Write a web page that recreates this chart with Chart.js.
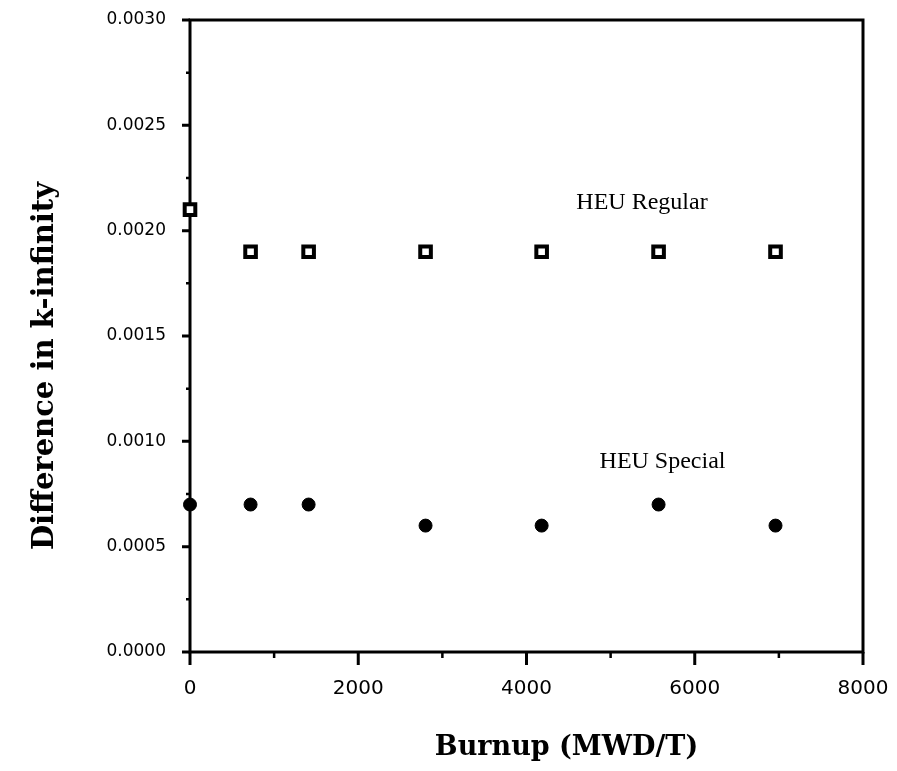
<!DOCTYPE html>
<html>
<head>
<meta charset="utf-8">
<script src="https://cdn.jsdelivr.net/npm/chart.js@4.4.1/dist/chart.umd.min.js"></script>
<style>
  html, body { margin: 0; padding: 0; background: #fff; }
  #wrap { width: 897px; height: 771px; }
</style>
</head>
<body>
<div id="wrap"><canvas id="grafico" width="897" height="771"></canvas></div>
<script>
// valores
var burnup = [0, 720, 1410, 2800, 4180, 5570, 6960];
var heuRegular = [0.0021, 0.0019, 0.0019, 0.0019, 0.0019, 0.0019, 0.0019];
var heuSpecial = [0.0007, 0.0007, 0.0007, 0.0006, 0.0006, 0.0007, 0.0006];

var xTicks = [0, 2000, 4000, 6000, 8000];
var xMinorTicks = [1000, 3000, 5000, 7000];
var yTicks = [0, 0.0005, 0.0010, 0.0015, 0.0020, 0.0025, 0.0030];
var yTickLabels = ['0.0000', '0.0005', '0.0010', '0.0015', '0.0020', '0.0025', '0.0030'];
var yMinorTicks = [0.00025, 0.00075, 0.00125, 0.00175, 0.00225, 0.00275];

var xTitle = 'Burnup (MWD/T)';
var yTitle = 'Difference in k-infinity';

// rótulos das séries (posição em unidades dos eixos)
var seriesNames = ['HEU Regular', 'HEU Special'];
var labelX = [5373, 5617];
var labelY = [0.002103, 0.000873];

function pontos(ys) {
    return burnup.map(function (x, i) { return { x: x, y: ys[i] }; });
}

function semPadding(scale) {
    scale.paddingTop = 0;
    scale.paddingBottom = 0;
    scale.paddingLeft = 0;
    scale.paddingRight = 0;
}

var molduraPlugin = {
    id: 'moldura',
    beforeDatasetsDraw: function (chart) {
        var ctx = chart.ctx;
        var a = chart.chartArea;
        var sx = chart.scales.x, sy = chart.scales.y;
        ctx.save();
        ctx.strokeStyle = '#000';
        ctx.lineWidth = 3;
        ctx.strokeRect(a.left, a.top, a.right - a.left, a.bottom - a.top);

        ctx.beginPath();
        yTicks.forEach(function (v) {
            var p = sy.getPixelForValue(v);
            ctx.moveTo(a.left - 8, p); ctx.lineTo(a.left, p);
        });
        xTicks.forEach(function (v) {
            var p = sx.getPixelForValue(v);
            ctx.moveTo(p, a.bottom); ctx.lineTo(p, a.bottom + 13);
        });
        ctx.stroke();

        ctx.lineWidth = 2.5;
        ctx.beginPath();
        yMinorTicks.forEach(function (v) {
            var p = sy.getPixelForValue(v);
            ctx.moveTo(a.left - 4, p); ctx.lineTo(a.left, p);
        });
        xMinorTicks.forEach(function (v) {
            var p = sx.getPixelForValue(v);
            ctx.moveTo(p, a.bottom); ctx.lineTo(p, a.bottom + 6);
        });
        ctx.stroke();
        ctx.restore();
    },
    afterDatasetsDraw: function (chart) {
        var ctx = chart.ctx;
        var a = chart.chartArea;
        var sx = chart.scales.x, sy = chart.scales.y;
        ctx.save();
        ctx.fillStyle = '#000';
        ctx.font = '24px "Liberation Serif", "Times New Roman", serif';
        ctx.textAlign = 'center';
        ctx.textBaseline = 'alphabetic';
        seriesNames.forEach(function (nome, i) {
            ctx.fillText(nome, sx.getPixelForValue(labelX[i]), sy.getPixelForValue(labelY[i]));
        });

        // títulos dos eixos (no original não ficam centrados na área)
        ctx.font = 'bold 27px "DejaVu Serif", serif';
        ctx.fillText(xTitle, (a.left + a.right) / 2 + 40, a.bottom + 103);

        ctx.font = 'bold 29px "DejaVu Serif", serif';
        ctx.translate(53, (a.top + a.bottom) / 2 + 30);
        ctx.rotate(-Math.PI / 2);
        ctx.fillText(yTitle, 0, 0);
        ctx.restore();
    }
};

var ctx = document.getElementById('grafico').getContext('2d');

var config = {
    type: 'scatter',
    data: {
        datasets: [{
            label: 'HEU Regular',
            data: pontos(heuRegular),
            pointStyle: 'rect',
            pointRadius: 7.5,
            pointHoverRadius: 7.5,
            pointBackgroundColor: '#fff',
            pointBorderColor: '#000',
            pointBorderWidth: 4,
            clip: false
        }, {
            label: 'HEU Special',
            data: pontos(heuSpecial),
            pointStyle: 'circle',
            pointRadius: 6.5,
            pointHoverRadius: 6.5,
            pointBackgroundColor: '#000',
            pointBorderColor: '#000',
            pointBorderWidth: 1,
            clip: false
        }]
    },
    options: {
        responsive: false,
        animation: false,
        events: [],
        layout: { padding: { top: 20, right: 34, left: 0, bottom: 0 } },
        plugins: {
            legend: { display: false },
            tooltip: { enabled: false }
        },
        scales: {
            x: {
                type: 'linear',
                position: 'bottom',
                min: 0,
                max: 8000,
                afterBuildTicks: function (scale) {
                    scale.ticks = xTicks.map(function (v) { return { value: v }; });
                },
                afterFit: function (scale) { scale.height = 119; semPadding(scale); },
                grid: { display: false, drawTicks: false },
                border: { display: false },
                ticks: {
                    color: '#000',
                    padding: 25,
                    maxRotation: 0,
                    font: { family: '"DejaVu Sans", sans-serif', size: 20 },
                    callback: function (v) { return String(v); }
                }
            },
            y: {
                min: 0,
                max: 0.003,
                afterBuildTicks: function (scale) {
                    scale.ticks = yTicks.map(function (v) { return { value: v }; });
                },
                afterFit: function (scale) { scale.width = 190; semPadding(scale); },
                grid: { display: false, drawTicks: false },
                border: { display: false },
                ticks: {
                    color: '#000',
                    padding: 24,
                    font: { family: '"DejaVu Sans", sans-serif', size: 17 },
                    callback: function (v, i) { return yTickLabels[i]; }
                }
            }
        }
    },
    plugins: [molduraPlugin]
};

var myChart = new Chart(ctx, config);
</script>
</body>
</html>
